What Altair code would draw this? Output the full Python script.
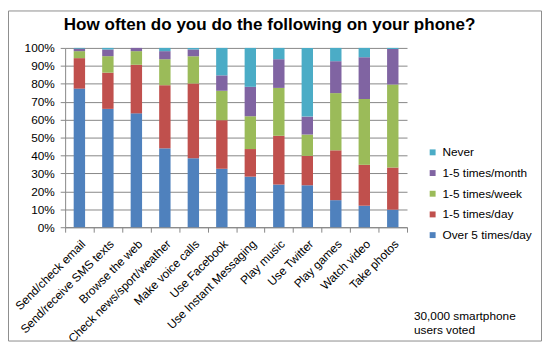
import altair as alt
import pandas as pd

categories = [
    "Send/check email", "Send/receive SMS texts", "Browse the web",
    "Check news/sport/weather", "Make voice calls", "Use Facebook",
    "Use Instant Messaging", "Play music", "Use Twitter", "Play games",
    "Watch video", "Take photos",
]
series_names = ["Over 5 times/day", "1-5 times/day", "1-5 times/week", "1-5 times/month", "Never"]
over5 = [77.3, 66.0, 63.5, 44.0, 38.5, 32.6, 28.2, 23.8, 23.4, 15.1, 12.0, 9.8]
per_day = [17.0, 20.2, 27.1, 35.2, 41.6, 27.1, 15.4, 27.2, 16.4, 27.8, 22.8, 23.5]
per_week = [3.9, 9.2, 7.6, 14.5, 15.3, 16.4, 18.3, 26.7, 11.9, 31.9, 36.7, 46.3]
per_month = [1.4, 3.7, 1.8, 4.5, 3.7, 8.6, 16.4, 16.0, 10.0, 17.8, 23.3, 19.8]
never = [0.4, 0.9, 0.0, 1.8, 0.9, 15.3, 21.7, 6.3, 38.3, 7.4, 5.2, 0.6]
colors = ["#4F81BD", "#C0504D", "#9BBB59", "#8064A2", "#4BACC6"]
y_ticks = [0, 10, 20, 30, 40, 50, 60, 70, 80, 90, 100]
title_text = "How often do you do the following on your phone?"
note_lines = ["30,000 smartphone", "users voted"]

series_values = [over5, per_day, per_week, per_month, never]
rows = []
for i, cat in enumerate(categories):
    for k, name in enumerate(series_names):
        rows.append({"activity": cat, "freq": name, "value": series_values[k][i], "rank": k})
df = pd.DataFrame(rows)

FONT = "Liberation Sans"
GRID = "#868686"
W, H = 347, 182
PAD = {"left": 58, "top": 38, "right": 137, "bottom": 116}
TOTAL_W = PAD["left"] + W + PAD["right"]
TOTAL_H = PAD["top"] + H + PAD["bottom"]

bars = alt.Chart(df).mark_bar(width={"band": 0.4}).encode(
    x=alt.X(
        "activity:N", sort=categories,
        scale=alt.Scale(paddingInner=0, paddingOuter=0),
        axis=alt.Axis(
            title=None, labelAngle=-45, labelFontSize=12, labelColor="black",
            labelFont=FONT, tickBand="extent", tickSize=5, tickColor=GRID,
            domainColor=GRID, labelPadding=6,
        ),
    ),
    y=alt.Y(
        "value:Q", stack="zero", scale=alt.Scale(domain=[0, 100], nice=False),
        axis=alt.Axis(
            title=None, values=y_ticks, labelExpr="datum.value + '%'",
            labelFontSize=12, labelColor="black", labelFont=FONT,
            grid=True, gridColor=GRID, tickColor=GRID, tickSize=5,
            domainColor=GRID, labelPadding=6,
        ),
    ),
    color=alt.Color(
        "freq:N",
        scale=alt.Scale(domain=series_names[::-1], range=colors[::-1]),
        legend=alt.Legend(
            title=None, orient="none", legendX=367, legendY=100,
            symbolType="square", symbolSize=36, symbolStrokeWidth=0,
            labelFontSize=12, labelFont=FONT, labelColor="black",
            rowPadding=9, padding=0, labelOffset=4,
        ),
    ),
    order=alt.Order("rank:Q", sort="ascending"),
)

one = pd.DataFrame({"k": [0]})

title = alt.Chart(one).mark_text(
    text=title_text, fontSize=17.3, fontWeight="bold", font=FONT,
    align="center", baseline="alphabetic", color="black",
).encode(x=alt.value(207.5), y=alt.value(-18))

note = alt.Chart(one).mark_text(
    text=note_lines, fontSize=12, font=FONT, align="left",
    baseline="alphabetic", lineHeight=14, color="black",
).encode(x=alt.value(354), y=alt.value(276))

border = alt.Chart(one).mark_rect(
    fill=None, stroke="#8c8c8c", strokeWidth=1,
).encode(
    x=alt.value(-PAD["left"] + 0.5), x2=alt.value(TOTAL_W - PAD["left"] - 0.5),
    y=alt.value(-PAD["top"] + 0.5), y2=alt.value(TOTAL_H - PAD["top"] - 0.5),
)

chart = alt.layer(border, bars, title, note).properties(
    width=W, height=H, padding=PAD,
    autosize=alt.AutoSizeParams(type="none"),
    background="white",
).configure_view(stroke=None)

chart.save("out.html", embed_options={"renderer": "svg", "actions": False})
